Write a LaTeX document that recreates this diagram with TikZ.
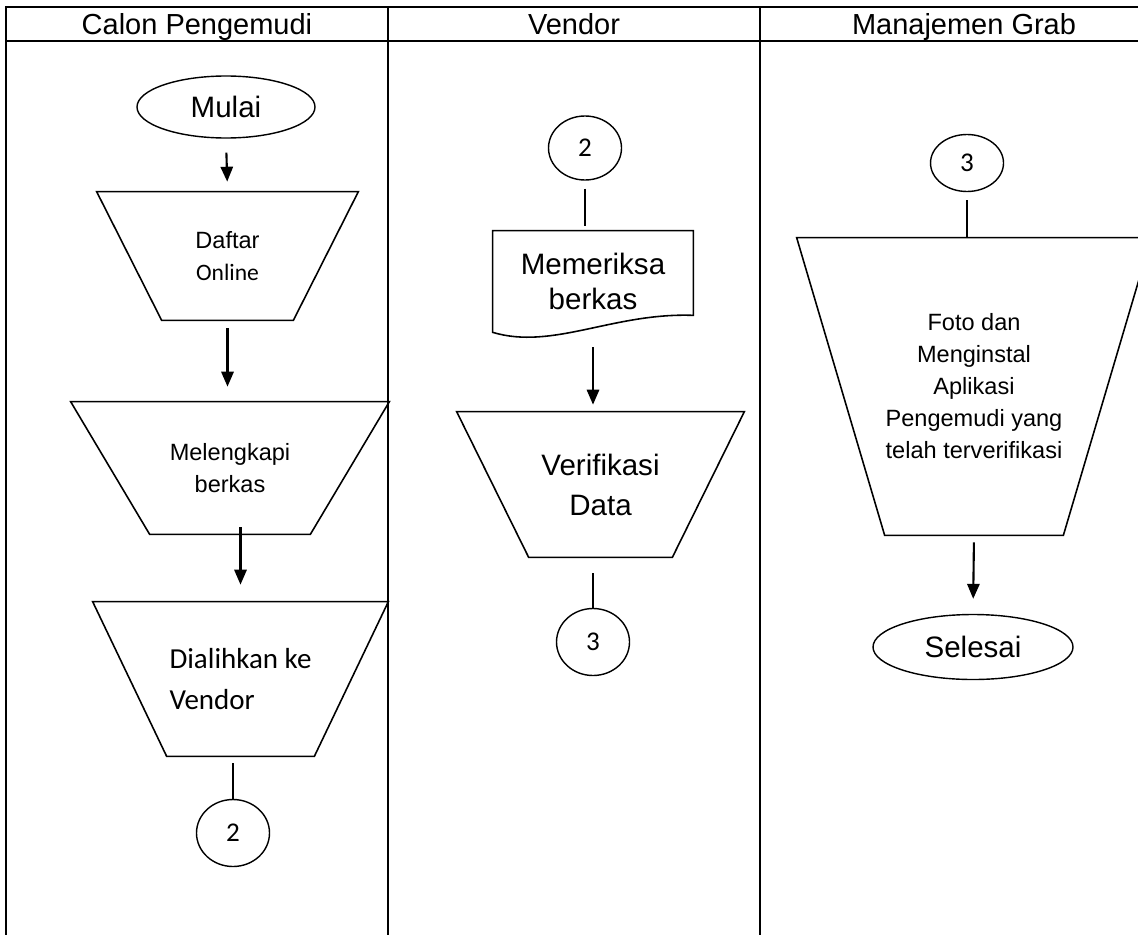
\documentclass[tikz,border=0pt]{standalone}
\usepackage{fontspec}
\setmainfont{Liberation Sans}
\newfontfamily\calibri{Carlito}
\usetikzlibrary{arrows.meta,shapes.geometric}

\newcommand{\manualop}[2]{%
  \draw[link] (#1.north west) -- (#1.north east) -- ([xshift=-#2]#1.south east)
    -- ([xshift=#2]#1.south west) -- cycle;}

\begin{document}
\begin{tikzpicture}[
  line join=miter,
  lane/.style={line width=1.2pt},
  head/.style={anchor=base,font=\fontsize{16.5}{19}\selectfont},
  bigtext/.style={font=\fontsize{16.8}{19}\selectfont},
  smalltext/.style={font=\fontsize{13.4}{18.2}\selectfont},
  termin/.style={draw,ellipse,line width=0.8pt,inner sep=0pt,bigtext},
  conn/.style={draw,ellipse,line width=0.8pt,inner sep=0pt,minimum width=1.46cm,
    minimum height=1.3cm,font=\calibri\fontsize{15.4}{18}\selectfont},
  manual/.style={inner sep=0pt,align=center},
  doc/.style={inner sep=0pt,align=center,font=\fontsize{16.8}{19.6}\selectfont},
  flow/.style={-{Triangle[length=8.5pt,width=7pt]},line width=1.2pt},
  link/.style={line width=0.9pt}
]
  \useasboundingbox (0,0) rectangle (22.76,-18.68);

  \draw[lane] (0.12,-19) -- (0.12,-0.14) -- (23,-0.14);
  \draw[lane] (0.12,-0.82) -- (23,-0.82);
  \draw[lane] (7.76,-0.14) -- (7.76,-19);
  \draw[lane] (15.2,-0.14) -- (15.2,-19);

  \node[head] (hcalon) at (3.94,-0.69) {Calon Pengemudi};
  \node[head] (hvendor) at (11.48,-0.69) {Vendor};
  \node[head] (hgrab) at (19.28,-0.69) {Manajemen Grab};

  \node[termin,minimum width=3.56cm,minimum height=1.24cm] (mulai) at (4.52,-2.14) {Mulai};
  \node[manual,smalltext,minimum width=5.22cm,minimum height=2.56cm]
    (daftar) at (4.55,-5.12) {Daftar\\{\calibri Online}};
  \manualop{daftar}{1.3cm}
  \node[manual,smalltext,minimum width=6.36cm,minimum height=2.64cm]
    (melengkapi) at (4.6,-9.36) {Melengkapi\\berkas};
  \manualop{melengkapi}{1.58cm}
  \node[manual,align=left,font=\calibri\fontsize{16.5}{22.8}\selectfont,
    minimum width=5.9cm,minimum height=3.08cm] (dialihkan) at (4.81,-13.58) {Dialihkan ke\\Vendor};
  \manualop{dialihkan}{1.48cm}
  \node[conn,minimum height=1.34cm] (out2) at (4.66,-16.66) {2};

  \node[conn,minimum height=1.28cm] (in2) at (11.7,-2.96) {2};
  \node[doc,minimum width=4cm,minimum height=2.02cm] (memeriksa) at (11.86,-5.63) {Memeriksa\\berkas};
  \draw[link] (memeriksa.north west) -- (memeriksa.north east) -- ([yshift=0.34cm]memeriksa.south east)
    .. controls +(-1.6,0.06) and +(1.2,-0.36) .. (memeriksa.south west) -- cycle;
  \node[manual,font=\fontsize{16.8}{22.8}\selectfont,minimum width=5.74cm,
    minimum height=2.9cm] (verifikasi) at (12.01,-9.69) {Verifikasi\\Data};
  \manualop{verifikasi}{1.44cm}
  \node[conn,minimum height=1.34cm] (out3) at (11.86,-12.84) {3};

  \node[conn,minimum height=1.14cm] (in3) at (19.34,-3.26) {3};
  \node[manual,smalltext,minimum width=7.08cm,minimum height=5.94cm]
    (foto) at (19.48,-7.73) {Foto dan\\Menginstal\\Aplikasi\\Pengemudi yang\\telah terverifikasi};
  \manualop{foto}{1.76cm}
  \node[termin,minimum width=4cm,minimum height=1.3cm] (selesai) at (19.46,-12.94) {Selesai};

  \draw[flow,shorten <=0.28cm,shorten >=0.2cm] (mulai.south) -- (daftar.north);
  \draw[flow,shorten <=0.16cm,shorten >=0.3cm] (daftar.south) -- (daftar.south |- melengkapi.north);
  \draw[flow,shorten <=-0.14cm,shorten >=0.34cm] (dialihkan.north |- melengkapi.south) -- (dialihkan.north);
  \draw[link,shorten <=0.14cm] (out2.north |- dialihkan.south) -- (out2.north);
  \draw[link,shorten <=0.16cm,shorten >=0.1cm] (in2.south) -- (in2.south |- memeriksa.north);
  \draw[flow,shorten <=0.3cm,shorten >=0.14cm] (memeriksa.south) -- (memeriksa.south |- verifikasi.north);
  \draw[link,shorten <=0.32cm] (out3.north |- verifikasi.south) -- (out3.north);
  \draw[link,shorten <=0.16cm] (in3.south) -- (in3.south |- foto.north);
  \draw[flow,shorten <=0.14cm,shorten >=0.3cm] (foto.south) -- (selesai.north);
\end{tikzpicture}
\end{document}
